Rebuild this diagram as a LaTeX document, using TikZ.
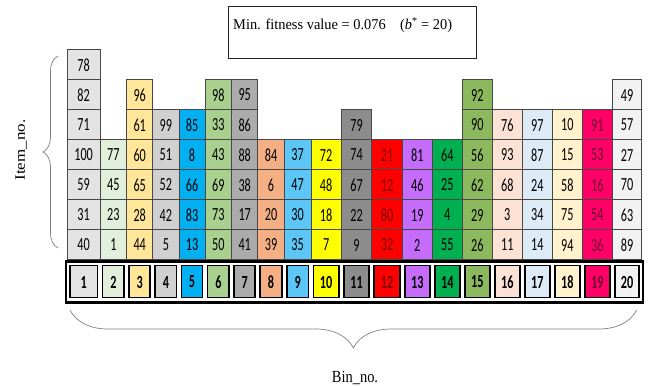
\documentclass[tikz,border=0pt]{standalone}
\usepackage{fontspec}
\usepackage{graphicx}
\setmainfont{Liberation Serif}
\newfontfamily\numfont{Carlito}
\usetikzlibrary{decorations.pathreplacing}
\definecolor{c1}{HTML}{E3E3E3}
\definecolor{c2}{HTML}{E2EFDA}
\definecolor{c3}{HTML}{FFE699}
\definecolor{c4}{HTML}{D0D0D0}
\definecolor{c5}{HTML}{00B0F0}
\definecolor{c6}{HTML}{A9D08E}
\definecolor{c7}{HTML}{ABABAB}
\definecolor{c8}{HTML}{F4B084}
\definecolor{c9}{HTML}{5CC6F7}
\definecolor{c10}{HTML}{FFFF00}
\definecolor{c11}{HTML}{8C8C8C}
\definecolor{c12}{HTML}{FF0000}
\definecolor{c13}{HTML}{C56CFA}
\definecolor{c14}{HTML}{00B050}
\definecolor{c15}{HTML}{8DB95E}
\definecolor{c16}{HTML}{FBE2D5}
\definecolor{c17}{HTML}{DDEBF7}
\definecolor{c18}{HTML}{FFF2CC}
\definecolor{c19}{HTML}{FF0066}
\definecolor{c20}{HTML}{F2F2F2}
\definecolor{t12}{HTML}{780000}
\definecolor{t19}{HTML}{6A0030}
\newcommand{\hnum}[1]{\scalebox{0.66}[1]{#1}}
\newcommand{\hser}[1]{\scalebox{0.85}[1]{#1}}
\begin{document}
\begin{tikzpicture}[x=1pt,y=-1pt,
  cell/.style={draw=black!72, line width=0.7pt},
  num/.style={font=\numfont\fontsize{18.5}{18.5}\selectfont, inner sep=0pt},
  binbox/.style={draw=black, line width=1.8pt},
  binnum/.style={font=\numfont\bfseries\fontsize{18.5}{18.5}\selectfont, inner sep=0pt},
  bracestyle/.style={draw=black!50, line width=0.7pt, decorate},
  lab/.style={font=\fontsize{15}{15}\selectfont, inner sep=0pt},
  biglab/.style={font=\fontsize{17}{17}\selectfont, inner sep=0pt}]
\useasboundingbox (0,0) rectangle (651,386);

\foreach \c/\xl/\xr/\fc/\tc/\items in {
  1/67.3/100/c1/black/{40,31,59,100,71,82,78},
  2/100/126.7/c2/black/{1,23,45,77},
  3/126.7/152.7/c3/black/{44,28,65,60,61,96},
  4/152.7/179/c4/black/{5,42,52,51,99},
  5/179/205/c5/black/{13,83,66,8,85},
  6/205/231.7/c6/black/{50,73,69,43,33,98},
  7/231.7/257.7/c7/black/{41,17,38,88,86,95},
  8/257.7/284.3/c8/black/{39,20,6,84},
  9/284.3/311/c9/black/{35,30,47,37},
  10/311/341.3/c10/black/{7,18,48,72},
  11/341.3/371.7/c11/black/{9,22,67,74,79},
  12/371.7/402.3/c12/t12/{32,80,12,21},
  13/402.3/432.3/c13/black/{2,19,46,81},
  14/432.3/462.3/c14/black/{55,4,25,64},
  15/462.3/492.3/c15/black/{26,29,62,56,90,92},
  16/492.3/522.3/c16/black/{11,3,68,93,76},
  17/522.3/552.3/c17/black/{14,34,24,87,97},
  18/552.3/582.3/c18/black/{94,75,58,15,10},
  19/582.3/612.3/c19/t19/{36,54,16,53,91},
  20/612.3/641.7/c20/black/{89,63,70,27,57,49}}{
  \foreach \v [count=\k] in \items {
    \pgfmathsetmacro\yb{259.5-30*(\k-1)}
    \pgfmathsetmacro\yt{259.5-30*\k}
    \draw[cell, fill=\fc] (\xl,\yt) rectangle (\xr,\yb);
    \node[num, text=\tc] (n\c-\k) at ({(\xl+\xr)/2},{(\yt+\yb)/2+0.5}) {\hnum{\v}};
  }
  \draw[binbox, fill=\fc] (\xl+2.5,265.5) rectangle (\xr-2.5,297.5);
  \node[binnum, text=\tc] (bin\c) at ({(\xl+\xr)/2},282) {\hnum{\c}};
}

% frame of bins
\draw[line width=2.2pt] (65.8,261.5) rectangle (642.8,302.5);

% top box
\node[draw=black!85, line width=0.8pt, minimum width=248pt, minimum height=52pt, anchor=north west, inner sep=0pt] (fitbox) at (228,6) {};
\node[lab, anchor=west] (fittext) at (233,25) {\scalebox{0.96}[1]{Min. fitness value = 0.076\quad(\textit{b}\textsuperscript{*} = 20)}};

% braces
\coordinate (lbt) at (58,56);
\coordinate (lbb) at (58,248);
\draw[bracestyle, decoration={brace, amplitude=15pt}] (lbb) -- (lbt);
\coordinate (bbl) at (70,310);
\coordinate (bbr) at (636.7,310);
\draw[bracestyle, decoration={brace, amplitude=38pt}] (bbr) -- (bbl);

% labels
\node[biglab, rotate=90] (itemlab) at (21,150) {\scalebox{1}[0.85]{Item\_no.}};
\node[biglab] (binlab) at (355,378) {\hser{Bin\_no.}};
\end{tikzpicture}
\end{document}
